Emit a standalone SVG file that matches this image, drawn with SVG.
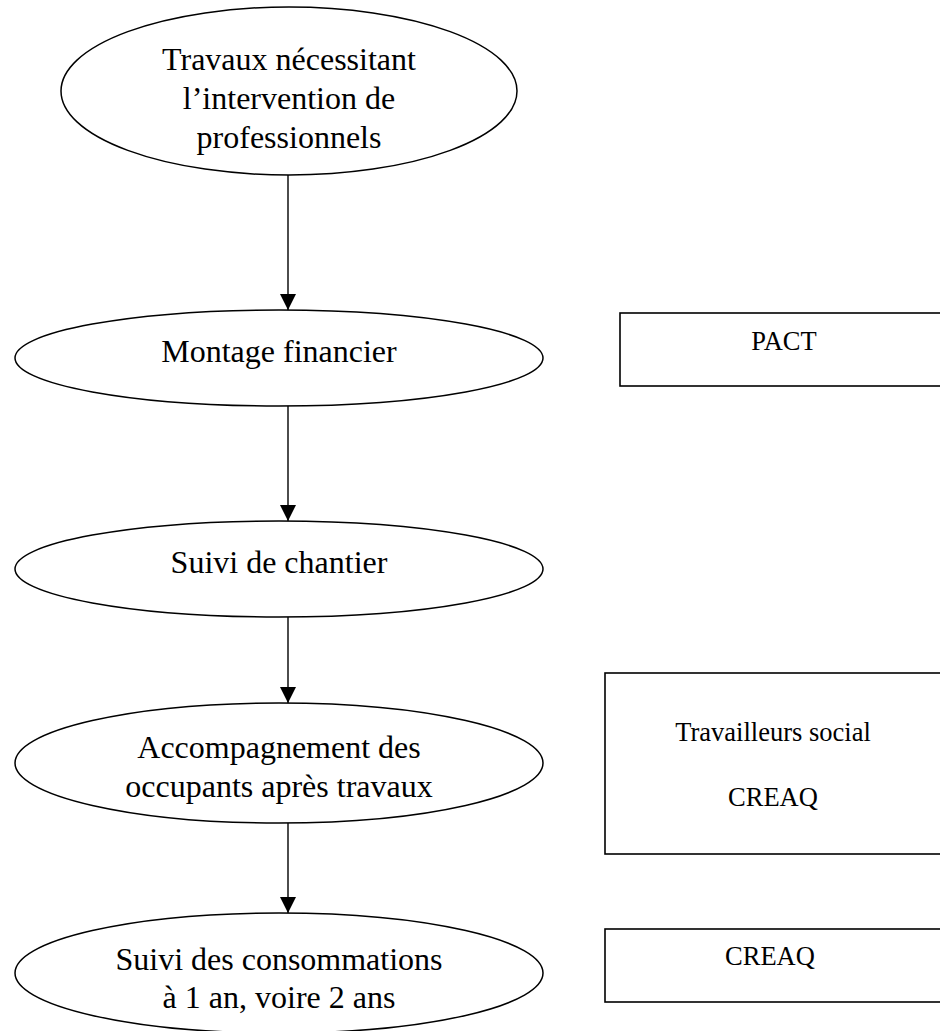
<svg xmlns="http://www.w3.org/2000/svg" width="940" height="1031" viewBox="0 0 940 1031">
<style>
.node ellipse{fill:#fff;stroke:#000;stroke-width:1.5}
.box rect{fill:#fff;stroke:#000;stroke-width:1.6}
.t{font-family:"Liberation Serif","Times New Roman",serif;font-size:32px;fill:#000;text-anchor:middle}
.s{font-family:"Liberation Serif","Times New Roman",serif;font-size:26.5px;fill:#000;text-anchor:middle}
.edge{stroke:#000;stroke-width:1.4;fill:none;marker-end:url(#arr)}
</style>
<defs>
<marker id="arr" markerWidth="16" markerHeight="16" viewBox="0 0 16 16" refX="16" refY="8" orient="auto" markerUnits="userSpaceOnUse">
<path d="M0,0 L16,8 L0,16 Z" fill="#000"/>
</marker>
</defs>
<rect width="940" height="1031" fill="#fff"/>
<g id="connectors">
<line class="edge" x1="288" y1="175" x2="288" y2="310"/>
<line class="edge" x1="288" y1="406" x2="288" y2="521"/>
<line class="edge" x1="288" y1="617" x2="288" y2="703"/>
<line class="edge" x1="288" y1="823" x2="288" y2="913"/>
</g>
<g id="n1" class="node">
<ellipse cx="289" cy="91" rx="228" ry="84"/>
<text class="t" x="289" y="70">Travaux nécessitant</text>
<text class="t" x="289" y="109">l’intervention de</text>
<text class="t" x="289" y="148">professionnels</text>
</g>
<g id="n2" class="node">
<ellipse cx="279" cy="358" rx="264" ry="48"/>
<text class="t" x="279" y="362">Montage financier</text>
</g>
<g id="n3" class="node">
<ellipse cx="279" cy="569" rx="264" ry="48"/>
<text class="t" x="279" y="573">Suivi de chantier</text>
</g>
<g id="n4" class="node">
<ellipse cx="279" cy="763" rx="264" ry="60"/>
<text class="t" x="279" y="758">Accompagnement des</text>
<text class="t" x="279" y="797">occupants après travaux</text>
</g>
<g id="n5" class="node">
<ellipse cx="279" cy="973" rx="264" ry="60"/>
<text class="t" x="279" y="970">Suivi des consommations</text>
<text class="t" x="279" y="1008">à 1 an, voire 2 ans</text>
</g>
<g id="b1" class="box">
<rect x="620" y="313" width="340" height="73"/>
<text class="s" x="784" y="350">PACT</text>
</g>
<g id="b2" class="box">
<rect x="605" y="673" width="355" height="181"/>
<text class="s" x="773" y="741">Travailleurs social</text>
<text class="s" x="773" y="806">CREAQ</text>
</g>
<g id="b3" class="box">
<rect x="605" y="929" width="355" height="73"/>
<text class="s" x="770" y="965">CREAQ</text>
</g>
</svg>
